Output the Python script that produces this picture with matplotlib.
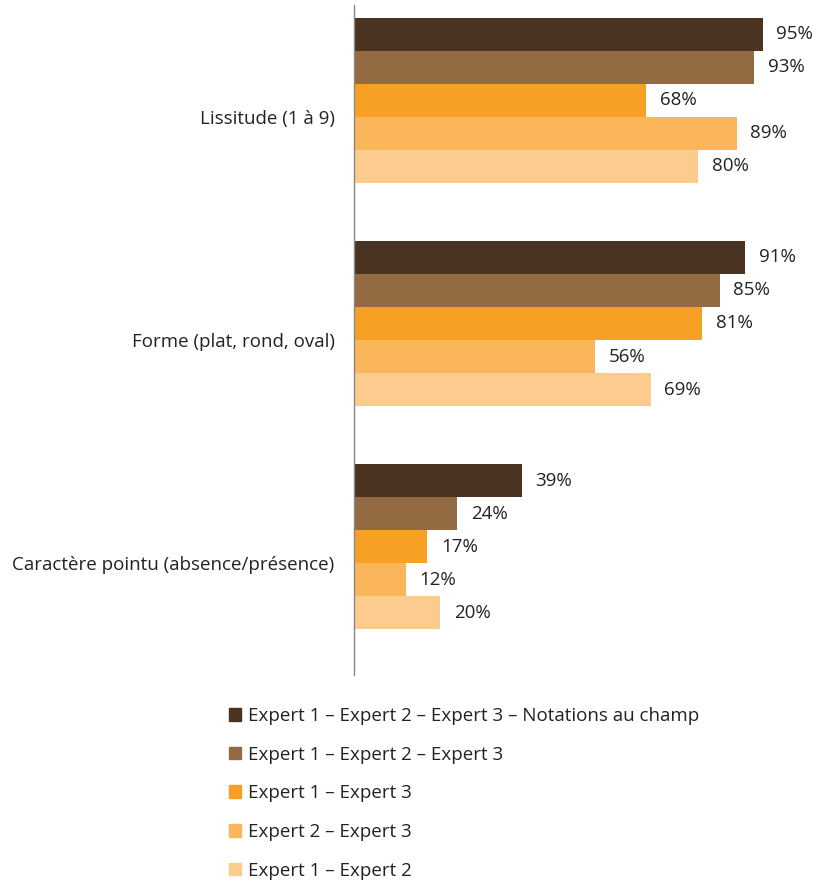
import matplotlib
matplotlib.use("Agg")
import matplotlib.pyplot as plt
from matplotlib.patches import Patch
import numpy as np

plt.rcParams['font.family'] = ['Open Sans', 'DejaVu Sans']

categories = ["Lissitude (1 à 9)", "Forme (plat, rond, oval)", "Caractère pointu (absence/présence)"]
series_names = [
    "Expert 1 – Expert 2 – Expert 3 – Notations au champ",
    "Expert 1 – Expert 2 – Expert 3",
    "Expert 1 – Expert 3",
    "Expert 2 – Expert 3",
    "Expert 1 – Expert 2",
]
values = [
    [0.95, 0.91, 0.39],
    [0.93, 0.85, 0.24],
    [0.68, 0.81, 0.17],
    [0.89, 0.56, 0.12],
    [0.80, 0.69, 0.20],
]
colors = ["#4A3320", "#946A43", "#F7A024", "#FBB55A", "#FCCB8E"]

W, H = 817, 883
fig = plt.figure(figsize=(W/100, H/100), dpi=100)
ax = fig.add_axes([354/W, 1-675/H, (784-354)/W, (675-5)/H])

FS = 13.5
n_slots = 6  # the group holds room for six bars; the last slot stays empty
bh = 0.148
y = np.arange(len(categories))
for i, (name, vals, c) in enumerate(zip(series_names, values, colors)):
    pos = y - (n_slots*bh)/2 + bh*(i+0.5)
    bars = ax.barh(pos, vals, height=bh, color=c, label=name)
    for b, v in zip(bars, vals):
        ax.text(v + 0.032, b.get_y() + b.get_height()/2, f"{int(round(v*100))}%",
                va='center', ha='left', fontsize=FS, color='#222222')

ax.set_xlim(0, 1.0)
ax.set_ylim(2.5, -0.5)
ax.set_yticks(y)
ax.set_yticklabels(categories, fontsize=FS, color='#222222')
ax.tick_params(axis='y', length=0, pad=14)
ax.set_xticks([])
for s in ['top', 'right', 'bottom']:
    ax.spines[s].set_visible(False)
ax.spines['left'].set_color('#888888')
ax.spines['left'].set_linewidth(1.0)

handles = [Patch(color=c) for c in colors]
fig.legend(handles, series_names, loc='upper left', bbox_to_anchor=(229/W, 1-707/H),
           frameon=False, fontsize=FS, handlelength=0.65, handleheight=0.65,
           handletextpad=0.35, labelspacing=1.1, borderpad=0, borderaxespad=0,
           labelcolor='#222222')

fig.savefig("out.png", dpi=100)
